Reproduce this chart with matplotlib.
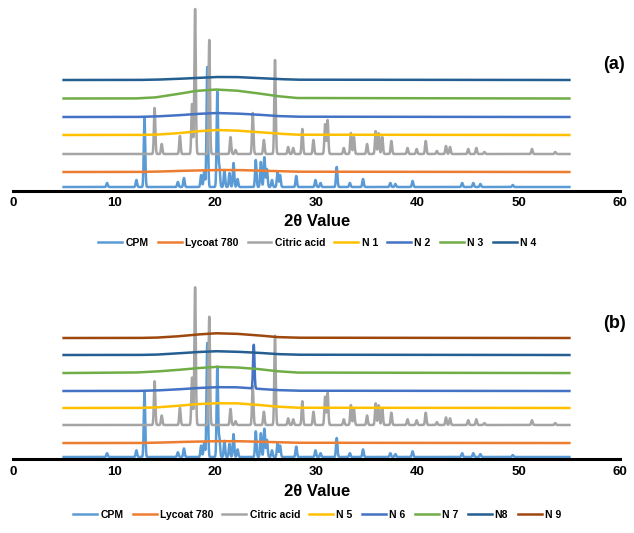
import numpy as np
import matplotlib.pyplot as plt

plt.rcParams['font.family'] = ['Liberation Sans', 'DejaVu Sans']
plt.rcParams['font.weight'] = 'bold'

# 2theta scan range
two_theta = np.arange(5, 55.001, 0.02)

# crystalline peaks: position (2θ) and height
cpm_pos = [9.3, 12.2, 13.0, 16.3, 16.9, 18.6, 18.9, 19.2, 20.2, 20.4, 20.9, 21.4, 21.8, 22.2,
           24.0, 24.5, 24.85, 25.1, 25.6, 26.15, 26.4, 28.0, 29.9, 30.4, 32.0, 33.3, 34.6,
           37.3, 37.8, 39.5, 44.4, 45.5, 46.2, 49.4]
cpm_hgt = [4, 7, 69, 5, 9, 12, 15, 120, 95, 20, 17, 14, 24, 8,
           27, 25, 30, 18, 7, 15, 12, 11, 7, 4, 20, 4, 8,
           4, 3, 6, 4, 4, 3, 2]

cit_pos = [14.0, 14.7, 16.5, 17.7, 18.0, 19.4, 21.5, 22.0, 23.7, 24.8, 25.9, 27.2, 27.7,
           28.6, 29.7, 30.85, 31.1, 32.7, 33.4, 33.7, 35.0, 35.85, 36.15, 36.5, 37.4, 39.0,
           39.9, 40.8, 41.9, 42.8, 43.2, 45.0, 45.8, 46.6, 51.3, 53.6]
cit_hgt = [46, 10, 18, 50, 145, 114, 17, 4, 41, 14, 94, 7, 6,
           25, 14, 30, 34, 6, 21, 17, 10, 23, 21, 17, 13, 6,
           5, 13, 3, 8, 7, 5, 6, 2, 5, 2]

n6_pos = [23.8]
n6_hgt = [46]

# amorphous halo: knots in 2θ and rise above each baseline
halo_x = [5, 12, 14, 16, 18, 20, 22, 24, 26, 28, 55]
flat = [0] * 11
lycoat_halo = [0, 0, 0.3, 1, 1.5, 2, 2, 1.5, 1, 0.3, 0]
n1_halo = [0, 0, 0.3, 1.5, 3.5, 5, 4.5, 3, 1.5, 0.3, 0]
n2_halo = [0, 0, 0.5, 1.5, 3, 4, 3.5, 2.5, 1, 0.3, 0]
n3_halo = [0, 0, 1, 4, 7.5, 9, 8, 5.5, 2.5, 0.5, 0]
n4_halo = [0, 0, 0.3, 1, 2, 3, 3, 2, 1, 0.3, 0]
n5_halo = [0, 0, 0.5, 2, 4, 5, 5, 3.5, 1.5, 0.3, 0]
n6_halo = [0, 0, 0.5, 1.5, 3, 4, 4, 2.5, 1, 0.3, 0]
n7_halo = [0, 0.5, 1.5, 3, 5, 6.5, 6, 4.5, 2, 0.5, 0]
n8_halo = [0, 0, 0.3, 1.5, 3, 4, 3.5, 2.5, 1, 0.3, 0]
n9_halo = [0, 0, 0.3, 1.5, 3.5, 5, 4.5, 3, 1, 0.3, 0]

# stacking offsets of each trace
offsets_a = [3.5, 18.5, 36.5, 55.5, 73.5, 92, 110.5]
offsets_b = [2.1, 16.8, 35.8, 53.7, 71.6, 90.5, 109.5, 127.4]

labels_a = ['CPM', 'Lycoat 780', 'Citric acid', 'N 1', 'N 2', 'N 3', 'N 4']
labels_b = ['CPM', 'Lycoat 780', 'Citric acid', 'N 5', 'N 6', 'N 7', 'N8', 'N 9']

colors_a = ['#5B9BD5', '#ED7D31', '#A5A5A5', '#FFC000', '#4472C4', '#70AD47', '#255E91']
colors_b = ['#5B9BD5', '#ED7D31', '#A5A5A5', '#FFC000', '#4472C4', '#70AD47', '#255E91', '#9E480E']


def pattern(pos, hgt, halo):
    y = np.interp(two_theta, halo_x, halo)
    for p, h in zip(pos, hgt):
        y = y + h * np.exp(-0.5 * ((two_theta - p) / 0.07) ** 2)
    return y


traces_a = [pattern(cpm_pos, cpm_hgt, flat),
            pattern([], [], lycoat_halo),
            pattern(cit_pos, cit_hgt, flat),
            pattern([], [], n1_halo),
            pattern([], [], n2_halo),
            pattern([], [], n3_halo),
            pattern([], [], n4_halo)]

traces_b = [pattern(cpm_pos, cpm_hgt, flat),
            pattern([], [], lycoat_halo),
            pattern(cit_pos, cit_hgt, flat),
            pattern([], [], n5_halo),
            pattern(n6_pos, n6_hgt, n6_halo),
            pattern([], [], n7_halo),
            pattern([], [], n8_halo),
            pattern([], [], n9_halo)]

W, H = 634, 533
fig = plt.figure(figsize=(W / 100, H / 100), dpi=100)


def panel(top_px, axis_px, ymax, traces, offsets, labels, colors, tag, tag_y, xl_y, leg_y):
    ax = fig.add_axes([13 / W, 1 - axis_px / H, 607 / W, (axis_px - top_px) / H])
    lines = []
    for tr, off, lab, c in zip(traces, offsets, labels, colors):
        ln, = ax.plot(two_theta, tr + off, color=c, lw=1.8, label=lab)
        lines.append(ln)
    ax.set_xlim(0, 60)
    ax.set_ylim(0, ymax)
    ax.set_xticks(range(0, 61, 10))
    ax.set_yticks([])
    for s in ['top', 'left', 'right']:
        ax.spines[s].set_visible(False)
    ax.spines['bottom'].set_linewidth(2.2)
    ax.tick_params(axis='x', length=0, pad=5, labelsize=9.5)
    for t in ax.get_xticklabels():
        t.set_fontweight('bold')
    fig.text(0.5, 1 - xl_y / H, '2θ Value', ha='center', va='center',
             fontsize=12, fontweight='bold')
    fig.text(614 / W, 1 - tag_y / H, tag, ha='center', va='center',
             fontsize=13, fontweight='bold')
    fig.legend(handles=lines, loc='center', bbox_to_anchor=(0.5, 1 - leg_y / H),
               ncol=len(lines), frameon=False, handlelength=2.3,
               handletextpad=0.3, columnspacing=0.9,
               prop={'weight': 'bold', 'size': 7.5})
    return ax


panel(5, 190.5, 185.5, traces_a, offsets_a, labels_a, colors_a, '(a)', 64, 222, 243)
panel(270, 459, 199, traces_b, offsets_b, labels_b, colors_b, '(b)', 324, 492, 515)

fig.savefig('out.png', dpi=100)
